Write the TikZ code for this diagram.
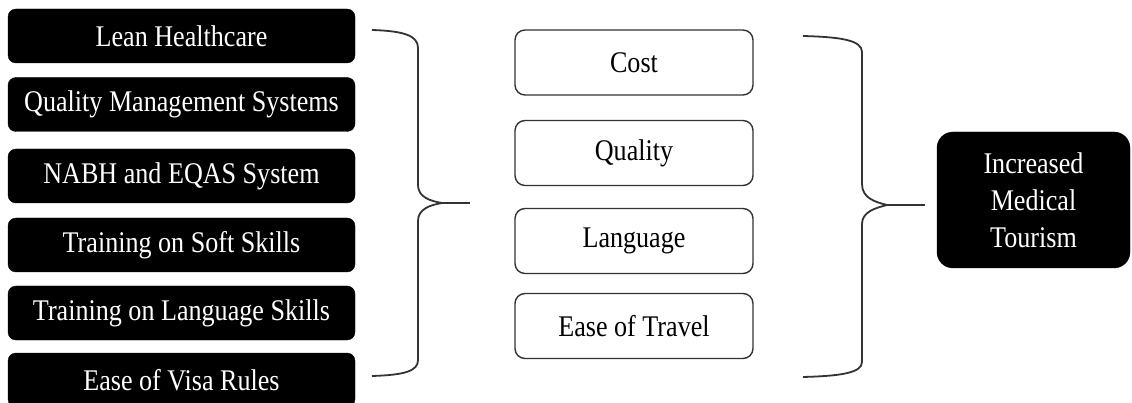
\documentclass[tikz,border=0pt]{standalone}
\usepackage{fontspec}
\setmainfont{Liberation Serif}[FakeStretch=0.87]
\begin{document}
\begin{tikzpicture}[x=1pt,y=-1pt,
  darkbox/.style={rounded corners=8pt, fill=black, draw=black, text=white,
    minimum width=347pt, minimum height=54pt, inner sep=0pt,
    font=\fontsize{30}{37}\selectfont},
  lightbox/.style={rounded corners=10pt, fill=white, draw=black!80, line width=1.4pt,
    text=black, minimum width=238pt, minimum height=65pt, inner sep=0pt,
    font=\fontsize{30}{37}\selectfont},
  goalbox/.style={rounded corners=16pt, fill=black, draw=black, text=white,
    minimum width=193pt, minimum height=136pt, inner sep=0pt, align=center,
    font=\fontsize{30}{37}\selectfont},
  brace/.style={draw=black!80, line width=1.8pt, line join=round}]
\useasboundingbox (0,0) rectangle (1132,403);

% drivers
\node[darkbox] (lean)  at (181.5,36)  {Lean Healthcare};
\node[darkbox] (qms)   at (181.5,104.5) {Quality Management Systems};
\node[darkbox] (nabh)  at (181.5,176) {NABH and EQAS System};
\node[darkbox] (soft)  at (181.5,245) {Training on Soft Skills};
\node[darkbox] (lang)  at (181.5,313) {Training on Language Skills};
\node[darkbox] (visa)  at (181.5,380) {Ease of Visa Rules};

% factors
\node[lightbox] (cost)    at (634,62.5) {Cost};
\node[lightbox] (quality) at (634,153)  {Quality};
\node[lightbox] (language) at (634,241) {Language};
\node[lightbox] (travel)  at (634,326)  {Ease of Travel};

% outcome
\node[goalbox] (tourism) at (1033.5,200) {Increased\\Medical\\Tourism};

% left brace
\coordinate (lbtop) at (372,30);
\coordinate (lbbot) at (372,376);
\coordinate (lbtip) at (442,203);
\coordinate (lbend) at (470,203);
\draw[brace] (lbtop) .. controls (405,31) and (418,36) .. (418,48)
  -- (418,185) .. controls (418,197) and (430,201) .. (lbtip)
  .. controls (430,205) and (418,209) .. (418,221)
  -- (418,360) .. controls (418,371) and (405,375) .. (lbbot);
\draw[brace] (lbtip) -- (lbend);

% right brace
\coordinate (rbtop) at (803,36);
\coordinate (rbbot) at (803,377);
\coordinate (rbtip) at (887,205);
\coordinate (rbend) at (925,205);
\draw[brace] (rbtop) .. controls (840,37) and (862,40) .. (862,52)
  -- (862,184) .. controls (862,198) and (875,202) .. (rbtip)
  .. controls (875,208) and (862,212) .. (862,224)
  -- (862,362) .. controls (862,373) and (840,376) .. (rbbot);
\draw[brace] (rbtip) -- (rbend);
\end{tikzpicture}
\end{document}
